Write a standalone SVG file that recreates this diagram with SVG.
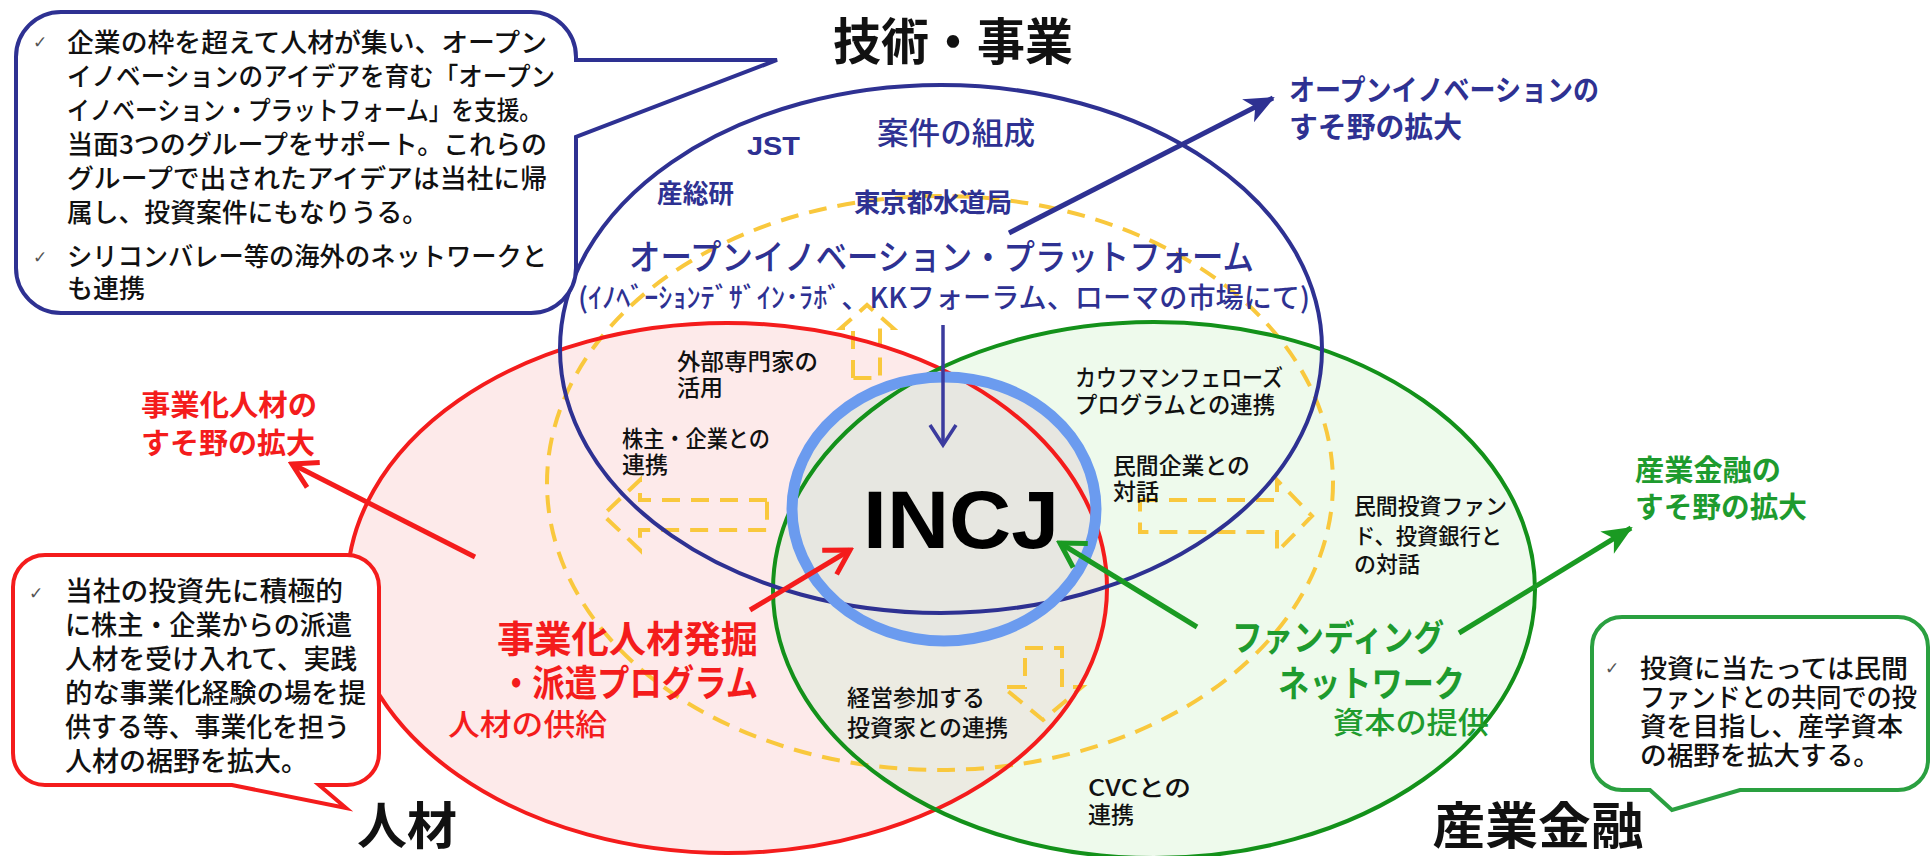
<svg xmlns="http://www.w3.org/2000/svg" width="1932" height="856" viewBox="0 0 1932 856">
<style>
text { font-family: "Noto Sans CJK JP", "Noto Sans", sans-serif; }
.chk { font-family: "DejaVu Sans", sans-serif; font-size: 17px; fill: #555; }
.body { font-size: 26px; fill: #111; font-weight: 500; }
.body27 { font-size: 27px; fill: #111; font-weight: 500; }
.body26 { font-size: 26px; fill: #111; font-weight: 500; }
.small { font-size: 23px; fill: #111; font-weight: 500; }
.small22 { font-size: 22px; fill: #111; font-weight: 500; }
.navy { fill: #2e3192; }
.red { fill: #f41c1c; }
.green { fill: #1e9b2e; }
.title { font-size: 50px; font-weight: bold; fill: #111; }
.dash { fill: none; stroke: #f9c83d; stroke-width: 4; stroke-dasharray: 18 11; }
</style>
<defs>
<clipPath id="clipRed"><ellipse cx="727" cy="588" rx="380" ry="265"/></clipPath>
<marker id="fillNavy" viewBox="-32 -16 36 32" markerWidth="36" markerHeight="32" refX="0" refY="0" orient="auto" markerUnits="userSpaceOnUse"><path d="M-28,-13 L2,0 L-28,13 L-20,0 Z" fill="#2e3192"/></marker>
<marker id="fillGreen" viewBox="-32 -16 36 32" markerWidth="36" markerHeight="32" refX="0" refY="0" orient="auto" markerUnits="userSpaceOnUse"><path d="M-28,-13 L2,0 L-28,13 L-20,0 Z" fill="#1a9a22"/></marker>
<marker id="chevNavy" viewBox="-26 -18 30 36" markerWidth="30" markerHeight="36" refX="0" refY="0" orient="auto" markerUnits="userSpaceOnUse"><path d="M-20,-13 L0,0 L-20,13" fill="none" stroke="#3b3b9e" stroke-width="3.5"/></marker>
<marker id="chevRed" viewBox="-30 -20 34 40" markerWidth="34" markerHeight="40" refX="0" refY="0" orient="auto" markerUnits="userSpaceOnUse"><path d="M-24,-14 L0,0 L-24,14" fill="none" stroke="#f41c1c" stroke-width="5"/></marker>
<marker id="chevGreen" viewBox="-30 -20 34 40" markerWidth="34" markerHeight="40" refX="0" refY="0" orient="auto" markerUnits="userSpaceOnUse"><path d="M-24,-14 L0,0 L-24,14" fill="none" stroke="#1a9a22" stroke-width="5"/></marker>
</defs>
<rect width="1932" height="856" fill="#ffffff"/>

<!-- fills -->
<g id="fills">
<ellipse cx="727" cy="588" rx="380" ry="265" fill="#fdeaea"/>
<ellipse cx="1154" cy="590" rx="381" ry="268" fill="#eefaec"/>
<ellipse cx="1154" cy="590" rx="381" ry="268" fill="#ecebe2" clip-path="url(#clipRed)"/>
<ellipse cx="944" cy="509" rx="152" ry="132" fill="#e7e7e1"/>
</g>

<!-- dashed yellow ring and block arrows -->
<g id="dashed">
<ellipse class="dash" cx="940" cy="483" rx="393" ry="287"/>
<polygon class="dash" points="853,378 853,328 841,328 867,305 893,328 880,328 880,378"/>
<polygon class="dash" points="767,500 640,500 640,480 603,515 640,550 640,530 767,530"/>
<polygon class="dash" points="1140,500 1277,500 1277,480 1312,516 1277,552 1277,532 1140,532"/>
<polygon class="dash" points="1025,648 1062,648 1062,687 1082,687 1043,720 1003,687 1025,687"/>
</g>

<g id="node-jinzai">
<ellipse cx="727" cy="588" rx="380" ry="265" fill="none" stroke="#f41c1c" stroke-width="4"/>
</g>
<g id="node-kinyu">
<ellipse cx="1154" cy="590" rx="381" ry="268" fill="none" stroke="#13911a" stroke-width="4"/>
</g>
<g id="node-gijutsu">
<ellipse cx="941" cy="349" rx="381" ry="264" fill="none" stroke="#2e3192" stroke-width="4"/>
</g>
<g id="node-incj">
<ellipse cx="944" cy="509" rx="152" ry="132" fill="none" stroke="#6b9bef" stroke-width="11"/>
<text x="961" y="548" text-anchor="middle" font-weight="bold" font-size="81" fill="#000" textLength="196" lengthAdjust="spacingAndGlyphs" style="font-family:'Liberation Sans', Arial, sans-serif">INCJ</text>
</g>

<!-- connectors -->
<g id="connectors" fill="none">
<line x1="943" y1="325" x2="943" y2="445" stroke="#3b3b9e" stroke-width="3.5" marker-end="url(#chevNavy)"/>
<line x1="1009" y1="233" x2="1273" y2="98" stroke="#2e3192" stroke-width="5" marker-end="url(#fillNavy)"/>
<line x1="750" y1="610" x2="850" y2="550" stroke="#f41c1c" stroke-width="5" marker-end="url(#chevRed)"/>
<line x1="475" y1="557" x2="292" y2="464" stroke="#f41c1c" stroke-width="5" marker-end="url(#chevRed)"/>
<line x1="1197" y1="627" x2="1060" y2="543" stroke="#1a9a22" stroke-width="5" marker-end="url(#chevGreen)"/>
<line x1="1459" y1="633" x2="1631" y2="528" stroke="#1a9a22" stroke-width="5" marker-end="url(#fillGreen)"/>
</g>

<!-- titles -->
<g id="titles">
<text class="title" x="953" y="60" text-anchor="middle" textLength="240" lengthAdjust="spacingAndGlyphs">技術・事業</text>
<text class="title" x="407" y="844" text-anchor="middle">人材</text>
<text class="title" x="1538" y="844" text-anchor="middle" textLength="211" lengthAdjust="spacingAndGlyphs">産業金融</text>
</g>

<!-- callout 1 (navy) -->
<g id="callout-gijutsu">
<path d="M61,12 H531 A45 45 0 0 1 576 57 V60 L777 60 L576 137 V268 A45 45 0 0 1 531 313 H61 A45 45 0 0 1 16 268 V57 A45 45 0 0 1 61 12 Z" fill="#fff" stroke="#2e3192" stroke-width="4"/>
<text class="chk" x="33" y="48">✓</text>
<text class="body" x="67" y="52" textLength="480" lengthAdjust="spacingAndGlyphs">企業の枠を超えて人材が集い、オープン</text>
<text class="body" x="67" y="86" textLength="488" lengthAdjust="spacingAndGlyphs">イノベーションのアイデアを育む「オープン</text>
<text class="body" x="67" y="120" textLength="475" lengthAdjust="spacingAndGlyphs">イノベーション・プラットフォーム」を支援。</text>
<text class="body" x="67" y="154" textLength="480" lengthAdjust="spacingAndGlyphs">当面3つのグループをサポート。これらの</text>
<text class="body" x="67" y="188" textLength="480" lengthAdjust="spacingAndGlyphs">グループで出されたアイデアは当社に帰</text>
<text class="body" x="67" y="222" textLength="361" lengthAdjust="spacingAndGlyphs">属し、投資案件にもなりうる。</text>
<text class="chk" x="33" y="263">✓</text>
<text class="body" x="67" y="266" textLength="480" lengthAdjust="spacingAndGlyphs">シリコンバレー等の海外のネットワークと</text>
<text class="body" x="67" y="298">も連携</text>
</g>

<!-- callout 2 (red) -->
<g id="callout-jinzai">
<path d="M45,555 H347 A32 32 0 0 1 379 587 V753 A32 32 0 0 1 347 785 H319 L346 808 L232 785 H45 A32 32 0 0 1 13 753 V587 A32 32 0 0 1 45 555 Z" fill="#fff" stroke="#f41c1c" stroke-width="4"/>
<text class="chk" x="29" y="599">✓</text>
<text class="body27" x="65" y="601" textLength="278" lengthAdjust="spacingAndGlyphs">当社の投資先に積極的</text>
<text class="body27" x="65" y="635" textLength="287" lengthAdjust="spacingAndGlyphs">に株主・企業からの派遣</text>
<text class="body27" x="65" y="669" textLength="292" lengthAdjust="spacingAndGlyphs">人材を受け入れて、実践</text>
<text class="body27" x="65" y="703" textLength="301" lengthAdjust="spacingAndGlyphs">的な事業化経験の場を提</text>
<text class="body27" x="65" y="737" textLength="285" lengthAdjust="spacingAndGlyphs">供する等、事業化を担う</text>
<text class="body27" x="65" y="771" textLength="243" lengthAdjust="spacingAndGlyphs">人材の裾野を拡大。</text>
</g>

<!-- callout 3 (green) -->
<g id="callout-kinyu">
<path d="M1622,617 H1898 A30 30 0 0 1 1928 647 V760 A30 30 0 0 1 1898 790 H1740 L1672 810 L1650 790 H1622 A30 30 0 0 1 1592 760 V647 A30 30 0 0 1 1622 617 Z" fill="#fff" stroke="#2aa040" stroke-width="4"/>
<text class="chk" x="1605" y="674">✓</text>
<text class="body26" x="1640" y="678" textLength="268" lengthAdjust="spacingAndGlyphs">投資に当たっては民間</text>
<text class="body26" x="1640" y="707" textLength="277" lengthAdjust="spacingAndGlyphs">ファンドとの共同での投</text>
<text class="body26" x="1640" y="736" textLength="263" lengthAdjust="spacingAndGlyphs">資を目指し、産学資本</text>
<text class="body26" x="1640" y="765" textLength="240" lengthAdjust="spacingAndGlyphs">の裾野を拡大する。</text>
</g>

<!-- labels: 技術・事業 circle -->
<g id="labels-gijutsu" class="navy">
<text x="956" y="144" font-size="31" font-weight="500" text-anchor="middle" textLength="158" lengthAdjust="spacingAndGlyphs">案件の組成</text>
<text x="747" y="155" font-size="25" font-weight="bold" textLength="53" lengthAdjust="spacingAndGlyphs" style="font-family:'Liberation Sans', Arial, sans-serif">JST</text>
<text x="657" y="203" font-size="26" font-weight="bold" textLength="77" lengthAdjust="spacingAndGlyphs">産総研</text>
<text x="854" y="212" font-size="26" font-weight="bold" textLength="158" lengthAdjust="spacingAndGlyphs">東京都水道局</text>
<text x="629" y="270" font-size="35" font-weight="500" textLength="625" lengthAdjust="spacingAndGlyphs">オープンイノベーション・プラットフォーム</text>
<text x="578" y="308" font-size="28" font-weight="500" textLength="732" lengthAdjust="spacingAndGlyphs">(ｲﾉﾍﾞｰｼｮﾝﾃﾞｻﾞｲﾝ･ﾗﾎﾞ、KKフォーラム、ローマの市場にて)</text>
<text x="1289" y="101" font-size="29" font-weight="bold" textLength="310" lengthAdjust="spacingAndGlyphs">オープンイノベーションの</text>
<text x="1289" y="138" font-size="29" font-weight="bold" textLength="173" lengthAdjust="spacingAndGlyphs">すそ野の拡大</text>
</g>

<!-- labels: inner texts -->
<g id="labels-inner">
<text class="small" x="677" y="370" textLength="141" lengthAdjust="spacingAndGlyphs">外部専門家の</text>
<text class="small" x="677" y="396">活用</text>
<text class="small" x="622" y="447" textLength="148" lengthAdjust="spacingAndGlyphs">株主・企業との</text>
<text class="small" x="622" y="473">連携</text>
<text class="small" x="1075" y="386" textLength="208" lengthAdjust="spacingAndGlyphs">カウフマンフェローズ</text>
<text class="small" x="1075" y="413" textLength="200" lengthAdjust="spacingAndGlyphs">プログラムとの連携</text>
<text class="small" x="1113" y="474" textLength="137" lengthAdjust="spacingAndGlyphs">民間企業との</text>
<text class="small" x="1113" y="500">対話</text>
<text class="small22" x="1354" y="514" textLength="153" lengthAdjust="spacingAndGlyphs">民間投資ファン</text>
<text class="small22" x="1354" y="544" textLength="148" lengthAdjust="spacingAndGlyphs">ド、投資銀行と</text>
<text class="small22" x="1354" y="572">の対話</text>
<text class="small" x="847" y="706" textLength="138" lengthAdjust="spacingAndGlyphs">経営参加する</text>
<text class="small" x="847" y="736" textLength="161" lengthAdjust="spacingAndGlyphs">投資家との連携</text>
<text class="small" x="1088" y="796" textLength="103" lengthAdjust="spacingAndGlyphs">CVCとの</text>
<text class="small" x="1088" y="823">連携</text>
</g>

<!-- labels: 人材 -->
<g id="labels-jinzai" class="red">
<text x="141" y="416" font-size="29" font-weight="bold" textLength="176" lengthAdjust="spacingAndGlyphs">事業化人材の</text>
<text x="141" y="454" font-size="29" font-weight="bold" textLength="174" lengthAdjust="spacingAndGlyphs">すそ野の拡大</text>
<text x="497" y="653" font-size="37" font-weight="bold" textLength="261" lengthAdjust="spacingAndGlyphs">事業化人材発掘</text>
<text x="500" y="697" font-size="37" font-weight="bold" textLength="258" lengthAdjust="spacingAndGlyphs">・派遣プログラム</text>
<text x="448" y="735" font-size="30" font-weight="500" textLength="159" lengthAdjust="spacingAndGlyphs">人材の供給</text>
</g>

<!-- labels: 産業金融 -->
<g id="labels-kinyu" class="green">
<text x="1635" y="481" font-size="29" font-weight="bold" textLength="146" lengthAdjust="spacingAndGlyphs">産業金融の</text>
<text x="1635" y="518" font-size="29" font-weight="bold" textLength="172" lengthAdjust="spacingAndGlyphs">すそ野の拡大</text>
<text x="1232" y="651" font-size="36" font-weight="bold" textLength="212" lengthAdjust="spacingAndGlyphs">ファンディング</text>
<text x="1278" y="697" font-size="36" font-weight="bold" textLength="187" lengthAdjust="spacingAndGlyphs">ネットワーク</text>
<text x="1333" y="733" font-size="30" font-weight="500" textLength="156" lengthAdjust="spacingAndGlyphs">資本の提供</text>
</g>
</svg>
